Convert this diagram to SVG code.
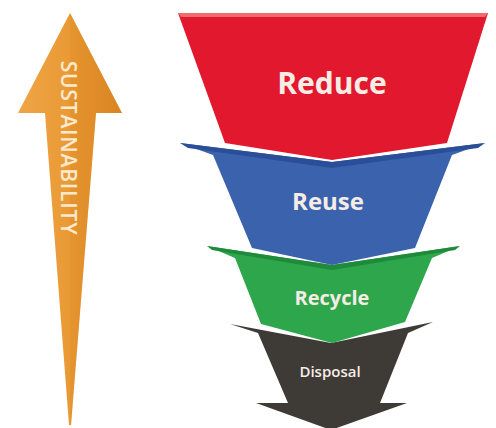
<svg xmlns="http://www.w3.org/2000/svg" width="496" height="428" viewBox="0 0 496 428">
<defs>
<linearGradient id="og" x1="0" y1="0" x2="1" y2="0">
<stop offset="0" stop-color="#f0a446"/>
<stop offset="0.5" stop-color="#e99a35"/>
<stop offset="1" stop-color="#d9821f"/>
</linearGradient>
<style>
.lbl{font-family:"Open Sans","Noto Sans","Liberation Sans",sans-serif;font-weight:700;fill:#f6ece6;text-anchor:middle}
</style>
</defs>
<rect width="496" height="428" fill="#ffffff"/>
<g id="sustainability">
<polygon points="70,13 122,113 96,113 71,425 69,425 45,113 18,113" fill="url(#og)"/>
<polygon points="70,13 122,113 96,113 71,425 70,425" fill="#dc8a28" opacity="0.35"/>
<text transform="translate(61,148) rotate(90)" font-family="Open Sans, Noto Sans, Liberation Sans, sans-serif" font-size="21" font-weight="600" fill="#fde9cc" text-anchor="middle" letter-spacing="0.8">SUSTAINABILITY</text>
</g>
<g id="disposal">
<polygon points="230,324 331,343 433,322 408,333 380,403 407,403 331,430 256,403 288,403 258,333" fill="#3e3a36"/>
<text class="lbl" x="330" y="377" font-size="15" style="font-weight:600">Disposal</text>
</g>
<g id="recycle">
<polygon points="207,246 332,265 460,246 432,258 405,322 332,343 261,324 235,258" fill="#2ea64c"/>
<polygon points="207,246 332,265 460,246 455,250 332,270 212,250" fill="#1f8a3a"/>
<text class="lbl" x="332" y="305" font-size="20">Recycle</text>
</g>
<g id="reuse">
<polygon points="180,143 332,162 485,143 452,155 415,248 332,265 252,248 213,155" fill="#3b63ad"/>
<polygon points="180,143 332,162 485,143 478,148 332,168 188,148" fill="#2a4f98"/>
<text class="lbl" x="328" y="210" font-size="24">Reuse</text>
</g>
<g id="reduce">
<polygon points="178,13 488,13 447,143 332,160 225,143" fill="#e2182e"/>
<polygon points="178,13 488,13 485,17 181,17" fill="#f06a70"/>
<text class="lbl" x="332" y="94" font-size="30">Reduce</text>
</g>
<g id="connectors"></g>
</svg>
